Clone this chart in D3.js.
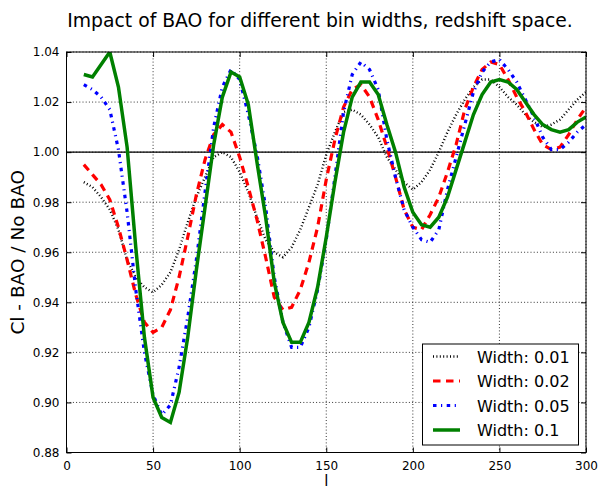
<!DOCTYPE html>
<html>
<head>
<meta charset="utf-8">
<script src="https://cdn.jsdelivr.net/npm/d3@7"></script>
<style>
  html, body { margin: 0; padding: 0; background: #fff; }
  svg { display: block; font-family: "DejaVu Sans", sans-serif; }
</style>
</head>
<body>
<svg id="chart" width="603" height="490"></svg>
<script>
// ---- data ----
const ells = d3.range(10, 301, 5);
const width001 = [0.988,0.986,0.982,0.977,0.969,0.957,0.950,0.946,0.944,0.947,0.952,0.961,0.972,0.982,0.990,0.998,1.000,0.998,0.992,0.984,0.974,0.965,0.960,0.958,0.962,0.969,0.978,0.987,0.999,1.008,1.016,1.017,1.015,1.011,1.006,0.998,0.993,0.988,0.985,0.988,0.993,1.000,1.008,1.015,1.021,1.026,1.029,1.029,1.026,1.022,1.019,1.015,1.012,1.010,1.011,1.013,1.017,1.021,1.024];
const width002 = [0.995,0.991,0.987,0.981,0.970,0.957,0.943,0.932,0.928,0.930,0.937,0.950,0.966,0.983,0.997,1.007,1.011,1.008,0.998,0.986,0.973,0.958,0.942,0.937,0.938,0.945,0.956,0.970,0.989,1.005,1.018,1.025,1.027,1.022,1.013,1.002,0.990,0.977,0.970,0.969,0.975,0.982,0.992,1.003,1.017,1.026,1.033,1.036,1.035,1.029,1.022,1.016,1.009,1.003,1.001,1.002,1.007,1.013,1.018];
const width005 = [1.027,1.025,1.022,1.017,1.001,0.976,0.945,0.920,0.903,0.895,0.899,0.914,0.934,0.957,0.984,1.010,1.026,1.033,1.029,1.015,0.999,0.978,0.950,0.932,0.922,0.922,0.930,0.945,0.965,0.990,1.016,1.031,1.036,1.033,1.025,1.005,0.990,0.977,0.970,0.965,0.964,0.969,0.985,0.998,1.011,1.024,1.032,1.036,1.037,1.033,1.028,1.021,1.014,1.006,1.001,1.001,1.004,1.008,1.011];
const width01 = [1.031,1.030,1.035,1.040,1.026,1.002,0.962,0.926,0.902,0.894,0.892,0.904,0.926,0.953,0.978,1.003,1.022,1.032,1.030,1.019,0.996,0.974,0.948,0.932,0.924,0.924,0.932,0.946,0.966,0.988,1.008,1.022,1.028,1.028,1.023,1.011,1.000,0.986,0.976,0.971,0.970,0.974,0.982,0.993,1.004,1.015,1.023,1.028,1.029,1.028,1.025,1.020,1.015,1.011,1.009,1.008,1.009,1.012,1.014];
const seriesNames = ["Width: 0.01", "Width: 0.02", "Width: 0.05", "Width: 0.1"];
const xTicks = [0, 50, 100, 150, 200, 250, 300];
const yTicks = [0.88, 0.90, 0.92, 0.94, 0.96, 0.98, 1.00, 1.02, 1.04];
const titleText = "Impact of BAO for different bin widths, redshift space.";
const xLabel = "l";
const yLabel = "Cl - BAO / No BAO";

// ---- layout ----
const L = 66.5, R = 586, T = 52, B = 452.5;
const svg = d3.select("#chart");
const x = d3.scaleLinear().domain([0, 300]).range([L, R]);
const y = d3.scaleLinear().domain([0.88, 1.04]).range([B, T]);

const styles = [
  { color: "#000000", width: 2.4, dash: "1,2.4" },
  { color: "#ff0000", width: 3.2, dash: "7.5,5.5" },
  { color: "#0000ff", width: 3.2, dash: "3.5,4.5,1.2,4.5" },
  { color: "#008000", width: 3.5, dash: null }
];
const allSeries = [width001, width002, width005, width01];

svg.append("rect").attr("width", 603).attr("height", 490).attr("fill", "#fff");

// grid
const grid = svg.append("g");
xTicks.forEach(t => grid.append("line")
  .attr("x1", x(t)).attr("x2", x(t)).attr("y1", T).attr("y2", B)
  .attr("stroke", "#000").attr("stroke-width", 0.8).attr("stroke-dasharray", "1,2.2"));
yTicks.forEach(t => grid.append("line")
  .attr("x1", L).attr("x2", R).attr("y1", y(t)).attr("y2", y(t))
  .attr("stroke", "#000").attr("stroke-width", 0.8).attr("stroke-dasharray", "1,2.2"));

// horizontal line at 1
svg.append("line").attr("x1", L).attr("x2", R).attr("y1", y(1)).attr("y2", y(1))
  .attr("stroke", "#000").attr("stroke-width", 1.2);

// clip
svg.append("clipPath").attr("id", "clip").append("rect")
  .attr("x", L).attr("y", T).attr("width", R - L).attr("height", B - T);

const line = d3.line().x((d, i) => x(ells[i])).y(d => y(d));
const plot = svg.append("g").attr("clip-path", "url(#clip)");
allSeries.forEach((s, k) => {
  plot.append("path").datum(s).attr("d", line)
    .attr("fill", "none").attr("stroke", styles[k].color)
    .attr("stroke-width", styles[k].width)
    .attr("stroke-dasharray", styles[k].dash)
    .attr("stroke-linejoin", "miter");
});

// axes with inward ticks
const axB = d3.axisBottom(x).tickValues(xTicks).tickSize(-5).tickPadding(9).tickFormat(d3.format("d"));
const axT = d3.axisTop(x).tickValues(xTicks).tickSize(-5).tickFormat("");
const axLft = d3.axisLeft(y).tickValues(yTicks).tickSize(-5).tickPadding(7).tickFormat(d3.format(".2f"));
const axRt = d3.axisRight(y).tickValues(yTicks).tickSize(-5).tickFormat("");
function styleAxis(g) {
  g.select(".domain").remove();
  g.selectAll(".tick line").attr("stroke", "#000").attr("stroke-width", 1);
  g.selectAll(".tick text").attr("fill", "#000").style("font-size", "12px").style("font-family", "DejaVu Sans");
}
svg.append("g").attr("transform", `translate(0,${B})`).call(axB).call(styleAxis);
svg.append("g").attr("transform", `translate(0,${T})`).call(axT).call(styleAxis);
svg.append("g").attr("transform", `translate(${L},0)`).call(axLft).call(styleAxis);
svg.append("g").attr("transform", `translate(${R},0)`).call(axRt).call(styleAxis);

// frame
svg.append("rect").attr("x", L).attr("y", T).attr("width", R - L).attr("height", B - T)
  .attr("fill", "none").attr("stroke", "#000").attr("stroke-width", 1);

// title & labels
svg.append("text").attr("x", 320).attr("y", 27).attr("text-anchor", "middle")
  .style("font-size", "18.8px").text(titleText);
svg.append("text").attr("x", (L + R) / 2).attr("y", 485.5).attr("text-anchor", "middle")
  .style("font-size", "15px").text(xLabel);
svg.append("text").attr("transform", `translate(24,${(T + B) / 2}) rotate(-90)`)
  .attr("text-anchor", "middle").style("font-size", "18.5px").text(yLabel);

// legend
const lg = svg.append("g");
lg.append("rect").attr("x", 422.5).attr("y", 344).attr("width", 156).attr("height", 101)
  .attr("fill", "#fff").attr("stroke", "#000").attr("stroke-width", 1);
seriesNames.forEach((name, k) => {
  const yy = 356.5 + k * 24.5;
  lg.append("line").attr("x1", 433).attr("x2", 460).attr("y1", yy).attr("y2", yy)
    .attr("stroke", styles[k].color).attr("stroke-width", styles[k].width)
    .attr("stroke-dasharray", styles[k].dash);
  lg.append("text").attr("x", 477).attr("y", yy + 6).style("font-size", "16px").text(name);
});
</script>
</body>
</html>
